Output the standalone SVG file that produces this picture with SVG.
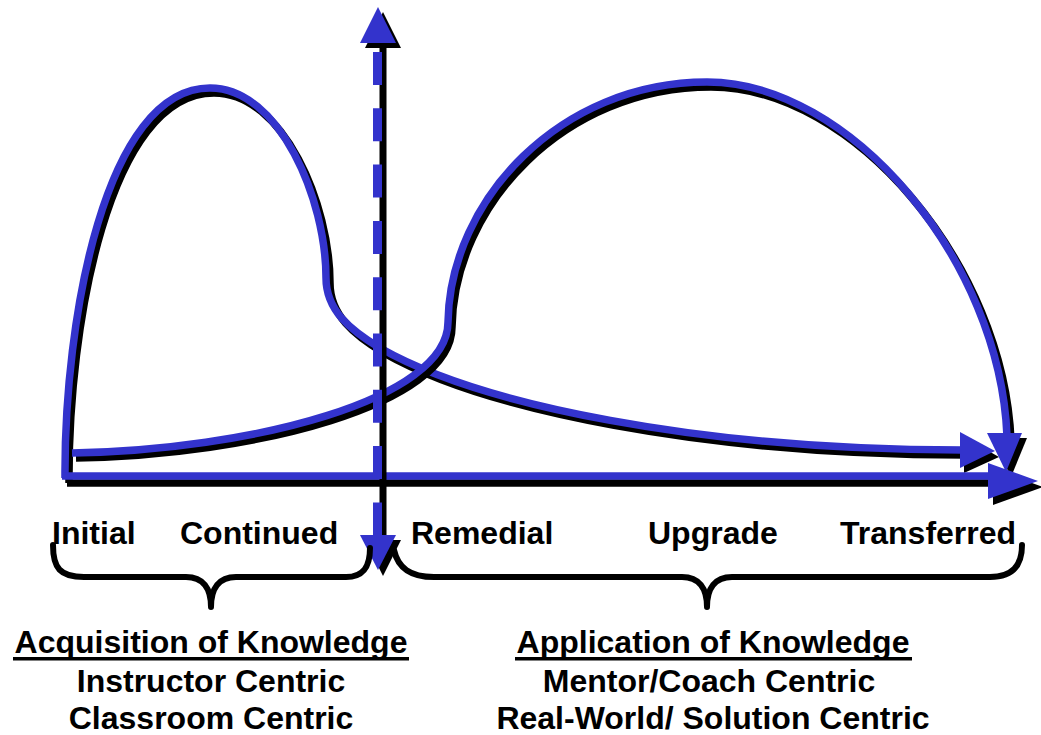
<svg xmlns="http://www.w3.org/2000/svg" xmlns:xlink="http://www.w3.org/1999/xlink" width="1041" height="735" viewBox="0 0 1041 735">
<style>
.blue{fill:none;stroke:#3333CC;stroke-width:7.5}
.shadow{fill:none;stroke:#000;stroke-width:7.5}
.headB{fill:#3333CC}
.headK{fill:#000}
.brace{fill:none;stroke:#000;stroke-width:6;stroke-linecap:round;stroke-linejoin:round}
.lbl{font-family:"Liberation Sans",Arial,Helvetica,sans-serif;font-weight:bold;font-size:32px;fill:#000}
.uline{fill:#000}
</style>
<defs>
<path id="acqPath" d="M65,478 C64,320 105,88 210,88 C280,88 326,200 326,278 C326,310 350,330 380,348 C480,405 700,450 962,450"/>
<path id="appPath" d="M72,453 C250,450 448,400 448,322 C450,200 560,82 707,82 C850,82 1000,260 1007,436"/>
</defs>
<rect width="1041" height="735" fill="#fff"/>
<g id="connectors">
<g id="acquisition-curve">
<use xlink:href="#acqPath" class="shadow" transform="translate(4,5)"/>
<polygon class="headK" points="964,437 999,457 964,473"/>
<use xlink:href="#acqPath" class="blue"/>
<polygon class="headB" points="960,432 995,451 960,468"/>
</g>
<g id="application-curve">
<use xlink:href="#appPath" class="shadow" transform="translate(4,5)"/>
<polygon class="headK" points="992,438 1027,438 1011,477"/>
<use xlink:href="#appPath" class="blue"/>
<polygon class="headB" points="987,433 1022,433 1006,472"/>
</g>
<g id="x-axis">
<line x1="67" y1="483" x2="995" y2="483" class="shadow"/>
<polygon class="headK" points="993,469 1043,487 993,505"/>
<line x1="62" y1="476" x2="992" y2="476" class="blue"/>
<polygon class="headB" points="988,463 1038,481 988,499"/>
</g>
<g id="y-axis">
<line x1="383" y1="40" x2="383" y2="560" stroke="#000" stroke-width="7"/>
<polygon class="headK" points="365,48 401,48 383,12"/>
<polygon class="headK" points="365,540 401,540 383,576"/>
<line x1="377.5" y1="52" x2="377.5" y2="537" stroke="#3333CC" stroke-width="9" stroke-dasharray="33 23.3"/>
<polygon class="headB" points="360,43 396,43 378,7"/>
<polygon class="headB" points="360,535 396,535 378,570"/>
</g>
</g>
<g id="braces">
<path id="brace-left" class="brace" d="M53,545 C53,568 60,577 84,577 L186,577 C203,577 211,588 211,607 C211,588 219,577 236,577 L346,577 C364,577 370,566 370,548"/>
<path id="brace-right" class="brace" d="M394,550 C398,568 410,577 434,577 L682,577 C699,577 707,588 707,607 C707,588 715,577 732,577 L990,577 C1012,577 1022,566 1022,545"/>
</g>
<g id="stage-labels">
<text class="lbl" x="52" y="544">Initial</text>
<text class="lbl" x="180" y="544">Continued</text>
<text class="lbl" x="411" y="544">Remedial</text>
<text class="lbl" x="648" y="544">Upgrade</text>
<text class="lbl" x="840" y="544">Transferred</text>
</g>
<g id="acquisition-label" text-anchor="middle">
<text class="lbl" x="211" y="653">Acquisition of Knowledge</text>
<rect class="uline" x="13" y="657" width="396" height="3.5"/>
<text class="lbl" x="211" y="692">Instructor Centric</text>
<text class="lbl" x="211" y="729">Classroom Centric</text>
</g>
<g id="application-label" text-anchor="middle">
<text class="lbl" x="713" y="653">Application of Knowledge</text>
<rect class="uline" x="515" y="657" width="397" height="3.5"/>
<text class="lbl" x="709" y="692">Mentor/Coach Centric</text>
<text class="lbl" x="713" y="729">Real-World/ Solution Centric</text>
</g>
</svg>
